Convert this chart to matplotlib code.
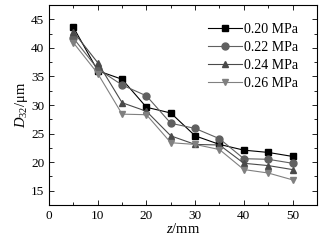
import matplotlib
matplotlib.use('Agg')
import matplotlib.pyplot as plt

plt.rcParams['font.family'] = 'Liberation Serif'
plt.rcParams['mathtext.fontset'] = 'custom'
plt.rcParams['mathtext.rm'] = 'Liberation Serif'
plt.rcParams['mathtext.it'] = 'Liberation Serif:italic'

z = [5, 10, 15, 20, 25, 30, 35, 40, 45, 50]
d_020 = [43.6, 36.0, 34.5, 29.6, 28.6, 24.6, 23.1, 22.1, 21.7, 21.0]
d_022 = [41.7, 36.3, 33.5, 31.6, 26.8, 25.9, 24.1, 20.6, 20.5, 19.8]
d_024 = [42.8, 37.4, 30.4, 28.9, 24.6, 23.1, 23.0, 19.8, 19.4, 18.7]
d_026 = [40.9, 35.5, 28.4, 28.3, 23.4, 23.1, 22.2, 18.7, 18.1, 16.9]
labels = ['0.20 MPa', '0.22 MPa', '0.24 MPa', '0.26 MPa']

fig = plt.figure(figsize=(3.25, 2.5), dpi=100)
ax = fig.add_axes([0.151, 0.18, 0.824, 0.80])

ax.plot(z, d_020, color='#000000', marker='s', ms=5, lw=0.8, label=labels[0])
ax.plot(z, d_022, color='#606060', marker='o', ms=5, lw=0.8, label=labels[1])
ax.plot(z, d_024, color='#4a4a4a', marker='^', ms=5, lw=0.8, label=labels[2])
ax.plot(z, d_026, color='#808080', marker='v', ms=5, lw=0.8, label=labels[3])

ax.set_xlim(0, 55)
ax.set_ylim(12.5, 47.5)
ax.set_xticks([0, 10, 20, 30, 40, 50])
ax.set_xticks([5, 15, 25, 35, 45], minor=True)
ax.set_yticks([15, 20, 25, 30, 35, 40, 45])
ax.set_yticks([17.5, 22.5, 27.5, 32.5, 37.5, 42.5], minor=True)
ax.tick_params(which='both', direction='in', top=True, right=True, labelsize=9.5, width=0.6)
ax.tick_params(which='major', length=3.5)
ax.tick_params(which='minor', length=2)
for s in ax.spines.values():
    s.set_linewidth(0.8)

ax.set_xlabel('$z$/mm', fontsize=10.5, labelpad=0)
ax.set_ylabel('$D_{32}$/μm', fontsize=10.5, labelpad=1)

ax.legend(loc='upper left', bbox_to_anchor=(0.595, 0.91), frameon=False, fontsize=10,
          handlelength=2.4, labelspacing=0.36, handletextpad=0.15,
          borderpad=0, borderaxespad=0)

fig.savefig('out.png', dpi=100)
